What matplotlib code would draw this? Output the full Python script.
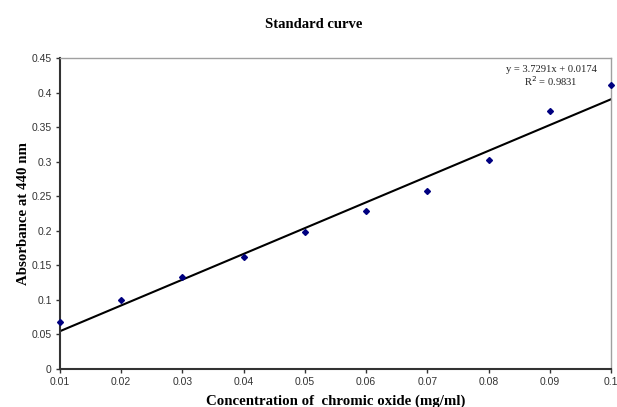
import matplotlib
matplotlib.use("Agg")
import matplotlib.pyplot as plt

# chromic oxide standard curve
conc = [0.01, 0.02, 0.03, 0.04, 0.05, 0.06, 0.07, 0.08, 0.09, 0.10]
absorb = [0.068, 0.100, 0.133, 0.162, 0.198, 0.228, 0.258, 0.302, 0.373, 0.411]
slope = 3.7291
intercept = 0.0174
r2 = 0.9831
xticks = [0.01, 0.02, 0.03, 0.04, 0.05, 0.06, 0.07, 0.08, 0.09, 0.1]
yticks = [0, 0.05, 0.1, 0.15, 0.2, 0.25, 0.3, 0.35, 0.4, 0.45]


def main():
    fig = plt.figure(figsize=(6.17, 4.07), dpi=100)
    ax = fig.add_axes([0.0972, 0.0934, 0.8931, 0.7641])

    fit = [slope * x + intercept for x in [conc[0], conc[-1]]]
    ax.plot([conc[0], conc[-1]], fit, color="black", lw=1.5, zorder=2)
    ax.plot(conc, absorb, "D", color="#000080", ms=3.0, zorder=3, clip_on=False)

    ax.set_xlim(0.01, 0.1)
    ax.set_ylim(0, 0.45)
    ax.set_xticks(xticks)
    ax.set_xticklabels([f"{t:g}" for t in xticks])
    ax.set_yticks(yticks)
    ax.set_yticklabels([f"{t:g}" for t in yticks])
    ax.tick_params(labelsize=7.5, length=3, width=1, color="#333333",
                   labelcolor="#333333", pad=3)
    for lab in ax.get_xticklabels() + ax.get_yticklabels():
        lab.set_family("Liberation Sans")

    for s in ["top", "right"]:
        ax.spines[s].set_color("#a0a0a0")
        ax.spines[s].set_linewidth(1)
    for s in ["left", "bottom"]:
        ax.spines[s].set_color("#333333")
        ax.spines[s].set_linewidth(1.5)

    serif = "Liberation Serif"
    ax.set_xlabel("Concentration of  chromic oxide (mg/ml)", family=serif,
                  weight="bold", fontsize=10.7, labelpad=5)
    ax.set_ylabel("Absorbance at 440 nm", family=serif, weight="bold",
                  fontsize=10.7, labelpad=1)
    fig.text(0.509, 0.931, "Standard curve", family=serif, weight="bold",
             fontsize=10.5, ha="center", va="baseline")

    ax.text(0.0902, 0.4330, f"y = {slope}x + {intercept}", family=serif,
            fontsize=7.6, color="#222222", ha="center", va="center")
    ax.text(0.0902, 0.4160, f"R$^2$ = {r2}", family=serif,
            fontsize=7.6, color="#222222", ha="center", va="center")

    fig.savefig("out.png", dpi=100)


if __name__ == "__main__":
    main()
